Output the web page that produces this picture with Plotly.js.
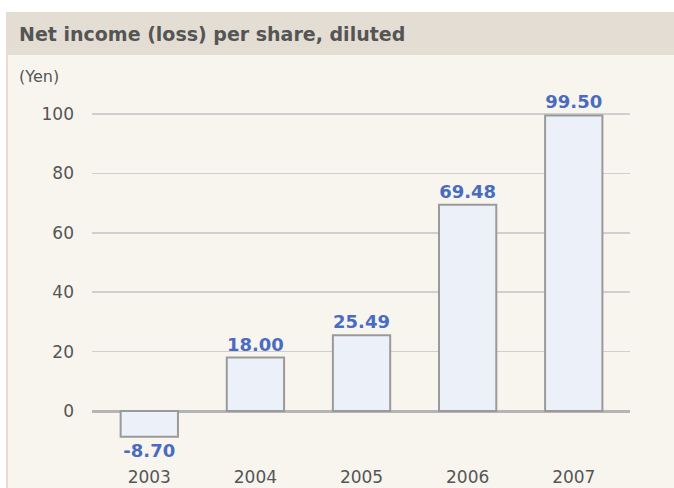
<!DOCTYPE html>
<html>
<head>
<meta charset="utf-8">
<script src="https://cdn.plot.ly/plotly-3.0.1.min.js"></script>
<style>html,body{margin:0;padding:0;background:#fff;}#chart{width:674px;height:488px;}</style>
</head>
<body>
<div id="chart"></div>
<script>
const years = ["2003", "2004", "2005", "2006", "2007"];
const eps = [-8.70, 18.00, 25.49, 69.48, 99.50];
const epsLabels = ["-8.70", "18.00", "25.49", "69.48", "99.50"];
const yTicks = [0, 20, 40, 60, 80, 100];

const W = 674, H = 488;
const L = 92, R = 44, T = 80, B = 26;
const pw = W - L - R, ph = H - T - B;
const px = v => (v - L) / pw;
const py = v => (H - B - v) / ph;

const trace = {
  type: "bar",
  x: years,
  y: eps,
  text: epsLabels,
  textposition: "outside",
  cliponaxis: false,
  textfont: {family: "DejaVu Sans", size: 18, color: "#4a6cc0", weight: "bold"},
  marker: {color: "#ecf1f9", line: {color: "#9a9a9a", width: 2}},
  width: 0.54,
  hoverinfo: "none"
};

const layout = {
  width: W, height: H,
  margin: {l: L, r: R, t: T, b: B, pad: 0},
  paper_bgcolor: "#ffffff",
  plot_bgcolor: "rgba(0,0,0,0)",
  showlegend: false,
  bargap: 0.46,
  xaxis: {
    type: "category",
    range: [-0.54, 4.53],
    showgrid: false, zeroline: false, showline: false,
    ticks: "", ticklabelstandoff: 3,
    tickfont: {family: "DejaVu Sans", size: 17, color: "#555555"},
    fixedrange: true
  },
  yaxis: {
    range: [(411 - (H - B)) / 2.97, (411 - T) / 2.97],
    tickvals: yTicks,
    showgrid: true, gridcolor: "#cfcfcf", gridwidth: 1.5,
    zeroline: true, zerolinecolor: "#b5b5b5", zerolinewidth: 3,
    showline: false, ticks: "", ticklabelstandoff: 17,
    tickfont: {family: "DejaVu Sans", size: 17, color: "#555555"},
    fixedrange: true
  },
  shapes: [
    {type: "rect", xref: "paper", yref: "paper", layer: "below",
     x0: px(6), x1: px(674), y0: py(488), y1: py(55),
     fillcolor: "#f8f5ef", line: {width: 0}},
    {type: "rect", xref: "paper", yref: "paper", layer: "below",
     x0: px(6), x1: px(674), y0: py(55), y1: py(12),
     fillcolor: "#e4ddd3", line: {width: 0}},
    {type: "rect", xref: "paper", yref: "paper", layer: "below",
     x0: px(6), x1: px(8), y0: py(488), y1: py(55),
     fillcolor: "#e4ddd3", line: {width: 0}}
  ],
  annotations: [
    {text: "<b>Net income (loss) per share, diluted</b>", xref: "paper", yref: "paper",
     x: px(17), y: py(34), xanchor: "left", yanchor: "middle", showarrow: false,
     font: {family: "DejaVu Sans", size: 19, color: "#555555"}},
    {text: "(Yen)", xref: "paper", yref: "paper",
     x: px(17), y: py(77), xanchor: "left", yanchor: "middle", showarrow: false,
     font: {family: "DejaVu Sans", size: 16, color: "#555555"}}
  ]
};

Plotly.newPlot("chart", [trace], layout, {displayModeBar: false, staticPlot: true});
</script>
</body>
</html>
